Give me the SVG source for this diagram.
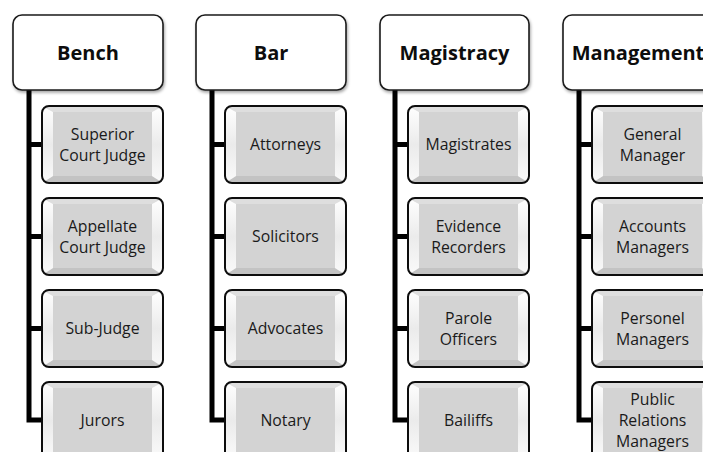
<svg xmlns="http://www.w3.org/2000/svg" xmlns:xlink="http://www.w3.org/1999/xlink" width="703" height="452" viewBox="0 0 703 452">
<style>
.hdr{fill:#fff;stroke:#1a1a1a;stroke-width:1.6}
.ht{font-family:"Open Sans","Liberation Sans",sans-serif;font-weight:bold;font-size:20px;fill:#0d0d0d;text-anchor:middle}
.ct{font-family:"Open Sans","Liberation Sans",sans-serif;font-size:15.8px;fill:#1a1a1a;text-anchor:middle}
.conn{fill:none;stroke:#000;stroke-width:5;stroke-linejoin:miter}
</style>
<defs>
<filter id="sh" x="-10%" y="-10%" width="125%" height="135%">
<feDropShadow dx="1" dy="2" stdDeviation="1.5" flood-color="#000" flood-opacity="0.35"/>
</filter>
<linearGradient id="side" x1="0" y1="0" x2="0" y2="1">
<stop offset="0" stop-color="#ffffff"/>
<stop offset="0.5" stop-color="#ebebeb"/>
<stop offset="1" stop-color="#fafafa"/>
</linearGradient>
<clipPath id="cc"><rect x="0" y="0" width="121" height="77" rx="7"/></clipPath>
<g id="cb">
<g clip-path="url(#cc)">
<rect x="0" y="0" width="121" height="77" fill="#d3d3d3"/>
<polygon points="0,0 121,0 110,6 11,6" fill="#dedede"/>
<polygon points="0,77 121,77 110,70 11,70" fill="#c3c3c3"/>
<polygon points="0,0 11,6 11,70 0,77" fill="url(#side)"/>
<polygon points="121,0 110,6 110,70 121,77" fill="url(#side)"/>
</g>
<rect x="0" y="0" width="121" height="77" rx="7" fill="none" stroke="#0d0d0d" stroke-width="2"/>
</g>
</defs>
<rect width="703" height="452" fill="#fff"/>
<g id="connectors">
<path class="conn" d="M29 90 V420 H43 M29 144.5 H43 M29 236.5 H43 M29 328.5 H43"/>
<path class="conn" d="M212 90 V420 H226 M212 144.5 H226 M212 236.5 H226 M212 328.5 H226"/>
<path class="conn" d="M395 90 V420 H409 M395 144.5 H409 M395 236.5 H409 M395 328.5 H409"/>
<path class="conn" d="M579 90 V420 H593 M579 144.5 H593 M579 236.5 H593 M579 328.5 H593"/>
</g>
<g id="bench"><rect class="hdr" x="13" y="15" width="150" height="75" rx="9" filter="url(#sh)"/><text class="ht" x="88" y="60">Bench</text></g>
<g id="bar"><rect class="hdr" x="196" y="15" width="150" height="75" rx="9" filter="url(#sh)"/><text class="ht" x="271" y="60">Bar</text></g>
<g id="magistracy"><rect class="hdr" x="380" y="15" width="149" height="75" rx="9" filter="url(#sh)"/><text class="ht" x="454.5" y="60">Magistracy</text></g>
<g id="management"><rect class="hdr" x="563" y="15" width="150" height="75" rx="9" filter="url(#sh)"/><text class="ht" x="638" y="60">Management</text></g>

<g id="superior-court-judge"><use xlink:href="#cb" x="42" y="106"/><text class="ct" x="102.5" y="140">Superior</text><text class="ct" x="102.5" y="160.5">Court Judge</text></g>
<g id="appellate-court-judge"><use xlink:href="#cb" x="42" y="198"/><text class="ct" x="102.5" y="232">Appellate</text><text class="ct" x="102.5" y="252.5">Court Judge</text></g>
<g id="sub-judge"><use xlink:href="#cb" x="42" y="290"/><text class="ct" x="102.5" y="334">Sub-Judge</text></g>
<g id="jurors"><use xlink:href="#cb" x="42" y="382"/><text class="ct" x="102.5" y="426">Jurors</text></g>

<g id="attorneys"><use xlink:href="#cb" x="225" y="106"/><text class="ct" x="285.5" y="150">Attorneys</text></g>
<g id="solicitors"><use xlink:href="#cb" x="225" y="198"/><text class="ct" x="285.5" y="242">Solicitors</text></g>
<g id="advocates"><use xlink:href="#cb" x="225" y="290"/><text class="ct" x="285.5" y="334">Advocates</text></g>
<g id="notary"><use xlink:href="#cb" x="225" y="382"/><text class="ct" x="285.5" y="426">Notary</text></g>

<g id="magistrates"><use xlink:href="#cb" x="408" y="106"/><text class="ct" x="468.5" y="150">Magistrates</text></g>
<g id="evidence-recorders"><use xlink:href="#cb" x="408" y="198"/><text class="ct" x="468.5" y="232">Evidence</text><text class="ct" x="468.5" y="252.5">Recorders</text></g>
<g id="parole-officers"><use xlink:href="#cb" x="408" y="290"/><text class="ct" x="468.5" y="324">Parole</text><text class="ct" x="468.5" y="344.5">Officers</text></g>
<g id="bailiffs"><use xlink:href="#cb" x="408" y="382"/><text class="ct" x="468.5" y="426">Bailiffs</text></g>

<g id="general-manager"><use xlink:href="#cb" x="592" y="106"/><text class="ct" x="652.5" y="140">General</text><text class="ct" x="652.5" y="160.5">Manager</text></g>
<g id="accounts-managers"><use xlink:href="#cb" x="592" y="198"/><text class="ct" x="652.5" y="232">Accounts</text><text class="ct" x="652.5" y="252.5">Managers</text></g>
<g id="personel-managers"><use xlink:href="#cb" x="592" y="290"/><text class="ct" x="652.5" y="324">Personel</text><text class="ct" x="652.5" y="344.5">Managers</text></g>
<g id="public-relations-managers"><use xlink:href="#cb" x="592" y="382"/><text class="ct" x="652.5" y="404.5">Public</text><text class="ct" x="652.5" y="425.5">Relations</text><text class="ct" x="652.5" y="446.5">Managers</text></g>
</svg>
